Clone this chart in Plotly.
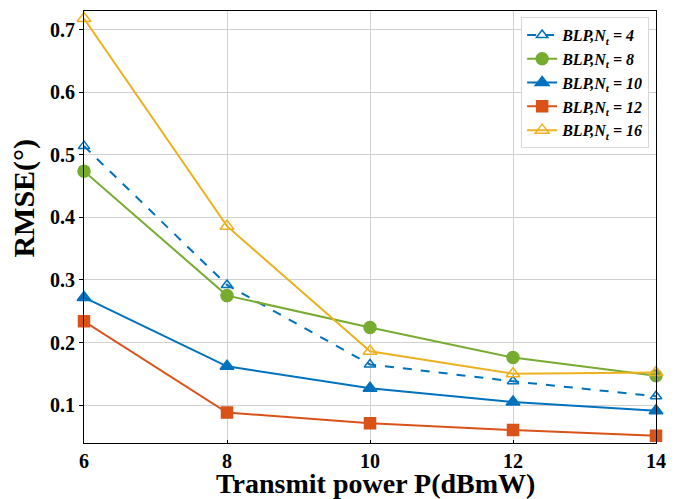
import plotly.graph_objects as go

power = [6, 8, 10, 12, 14]
rmse_nt4 = [0.514, 0.292, 0.165, 0.138, 0.114]
rmse_nt8 = [0.474, 0.275, 0.224, 0.176, 0.147]
rmse_nt10 = [0.272, 0.162, 0.127, 0.105, 0.091]
rmse_nt12 = [0.234, 0.088, 0.071, 0.060, 0.051]
rmse_nt16 = [0.718, 0.386, 0.186, 0.150, 0.152]
x_ticks = [6, 8, 10, 12, 14]
y_ticks = [0.1, 0.2, 0.3, 0.4, 0.5, 0.6, 0.7]

series = [
    ("BLP,N<sub>t</sub> = 4", rmse_nt4, "#0072BD", "dash", "triangle-up-open", 10),
    ("BLP,N<sub>t</sub> = 8", rmse_nt8, "#77AC30", "solid", "circle", 12),
    ("BLP,N<sub>t</sub> = 10", rmse_nt10, "#0072BD", "solid", "triangle-up", 12),
    ("BLP,N<sub>t</sub> = 12", rmse_nt12, "#D95319", "solid", "square", 11),
    ("BLP,N<sub>t</sub> = 16", rmse_nt16, "#EDB120", "solid", "triangle-up-open", 12),
]

fig = go.Figure()
for name, vals, col, dash, sym, size in series:
    fig.add_trace(go.Scatter(
        x=power, y=vals, name=name, mode="lines+markers",
        line=dict(color=col, width=2, dash=dash),
        marker=dict(symbol=sym, size=size, color=col, line=dict(color=col, width=1.5)),
        cliponaxis=False,
    ))

axis_common = dict(
    showline=True, linecolor="black", linewidth=1.2, mirror=True,
    showgrid=True, gridcolor="#d0d0d0", gridwidth=1,
    ticks="outside", ticklen=4, tickcolor="black",
    tickfont=dict(family="Liberation Serif", size=20, color="black", weight="bold"),
    zeroline=False,
)

fig.update_layout(
    width=676, height=499,
    margin=dict(l=84, r=10, t=10, b=56),
    paper_bgcolor="white", plot_bgcolor="white",
    showlegend=True,
    legend=dict(
        x=0.988, y=0.986, xanchor="right", yanchor="top",
        bgcolor="white", bordercolor="#d8d8d8", borderwidth=1,
        font=dict(family="Liberation Serif", size=16, color="black", weight="bold", style="italic"),
        tracegroupgap=0, itemwidth=30,
    ),
    xaxis=dict(axis_common, range=[6, 14], tickvals=x_ticks, ticktext=[str(v) for v in x_ticks],
               ticks="inside", ticklen=3),
    yaxis=dict(axis_common, range=[0.0394, 0.73], tickvals=y_ticks, ticktext=[f"{v:.1f}" for v in y_ticks]),
    annotations=[
        dict(text="Transmit power P(dBmW)", x=0.51, y=-0.053, xref="paper", yref="paper",
             xanchor="center", yanchor="top", showarrow=False,
             font=dict(family="Liberation Serif", size=28, color="black", weight="bold")),
        dict(text="RMSE(°)", x=-0.105, y=0.568, xref="paper", yref="paper",
             xanchor="center", yanchor="middle", showarrow=False, textangle=-90,
             font=dict(family="Liberation Serif", size=30, color="black", weight="bold")),
    ],
)

fig.write_html("out.html")
